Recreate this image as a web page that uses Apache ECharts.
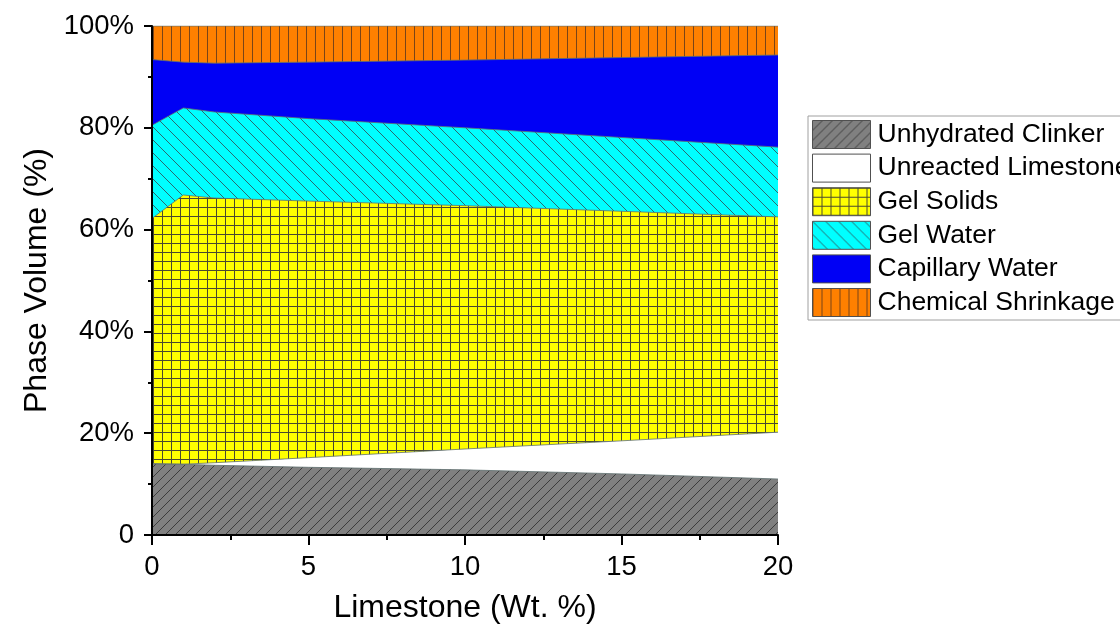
<!DOCTYPE html>
<html>
<head>
<meta charset="utf-8">
<script src="https://cdn.jsdelivr.net/npm/echarts@6/dist/echarts.min.js"></script>
<style>
html,body{margin:0;padding:0;background:#fff;}
#chart{width:1120px;height:630px;}
</style>
</head>
<body>
<div id="chart"></div>
<script>
// ---- data ----
const limestone = [0, 1, 2, 5, 10, 15, 20];
const unhydratedClinker   = [14.0, 13.9, 13.7, 13.3, 12.8, 12.0, 11.0];
const unreactedLimestone  = [0.0, 0.0, 0.5, 1.9, 4.1, 6.5, 9.2];
const gelSolids           = [48.2, 52.9, 52.0, 50.4, 47.8, 45.1, 42.3];
const gelWater            = [18.3, 17.1, 16.9, 16.2, 15.3, 14.5, 13.7];
const capillaryWater      = [12.9, 9.0, 9.6, 11.1, 13.3, 15.7, 18.1];
const chemicalShrinkage   = [6.6, 7.1, 7.3, 7.1, 6.7, 6.2, 5.7];
const seriesNames = ['Unhydrated Clinker', 'Unreacted Limestone', 'Gel Solids', 'Gel Water', 'Capillary Water', 'Chemical Shrinkage'];
const yTickLabels = ['0', '20%', '40%', '60%', '80%', '100%'];

// ---- patterns ----
function tile(w, h, bg, draw) {
  const c = document.createElement('canvas');
  c.width = w; c.height = h;
  const ctx = c.getContext('2d');
  ctx.fillStyle = bg; ctx.fillRect(0, 0, w, h);
  draw(ctx, w, h);
  return { image: c, repeat: 'repeat' };
}
function diag(color, dir) {
  return function (ctx, w, h) {
    ctx.strokeStyle = color; ctx.lineWidth = 1;
    ctx.beginPath();
    for (let k = -1; k <= 1; k++) {
      if (dir > 0) { ctx.moveTo(k * w, h); ctx.lineTo(k * w + w, 0); }
      else { ctx.moveTo(k * w, 0); ctx.lineTo(k * w + w, h); }
    }
    ctx.stroke();
  };
}
const patClinker = tile(10, 10, '#808080', diag('#3c3c3c', 1));
const patLime = '#ffffff';
const patGelSolids = tile(9, 9, '#ffff00', function (ctx, w, h) {
  ctx.fillStyle = '#4a4a30';
  ctx.fillRect(0, 0, 1, h);
  ctx.fillRect(0, 0, w, 1);
});
const patGelWater = tile(13, 13, '#00ffff', diag('#2a6a70', -1));
const patCap = '#0000f5';
const patShrink = tile(9, 9, '#ff8000', function (ctx, w, h) {
  ctx.fillStyle = '#7a4418';
  ctx.fillRect(0, 0, 1, h);
});
const fills = [patClinker, patLime, patGelSolids, patGelWater, patCap, patShrink];
const values = [unhydratedClinker, unreactedLimestone, gelSolids, gelWater, capillaryWater, chemicalShrinkage];

// cumulative tops of each phase (stacked by hand; value x-axis)
const cumulative = [];
values.forEach(function (arr, i) {
  cumulative.push(arr.map(function (v, j) { return (i > 0 ? cumulative[i - 1][j] : 0) + v; }));
});

const font = 'Liberation Sans, Arial, sans-serif';
const chart = echarts.init(document.getElementById('chart'), null, { renderer: 'canvas' });

// draw topmost phase first so lower phases paint over it
const series = [];
for (let i = seriesNames.length - 1; i >= 0; i--) {
  series.push({
    name: seriesNames[i],
    type: 'line',
    showSymbol: false,
    symbol: 'none',
    data: limestone.map(function (x, j) { return [x, Math.min(100, cumulative[i][j])]; }),
    lineStyle: { color: '#607070', width: 1, opacity: 0.8 },
    itemStyle: { color: '#607070' },
    areaStyle: { color: fills[i], opacity: 1, origin: 'start' },
    z: 2
  });
}

chart.setOption({
  animation: false,
  backgroundColor: '#ffffff',
  grid: { left: 152, right: 342, top: 26, bottom: 95, containLabel: false },
  legend: {
    orient: 'vertical',
    left: 808,
    top: 116,
    padding: [4, 8, 3, 4],
    itemWidth: 58,
    itemHeight: 28,
    itemGap: 4.6,
    icon: 'rect',
    borderColor: '#a0a0a0',
    borderWidth: 1,
    textStyle: { fontFamily: font, fontSize: 26.5, color: '#000', padding: [0, 0, 0, 2] },
    data: seriesNames.map(function (n, i) {
      return { name: n, icon: 'rect', itemStyle: { color: fills[i], borderColor: '#505050', borderWidth: 1, opacity: 1 } };
    })
  },
  xAxis: {
    type: 'value',
    min: 0, max: 20, interval: 5,
    name: 'Limestone (Wt. %)',
    nameLocation: 'middle',
    nameGap: 57,
    nameTextStyle: { fontFamily: font, fontSize: 32, color: '#000' },
    axisLine: { show: true, onZero: false, lineStyle: { color: '#000', width: 2 } },
    axisTick: { show: true, length: 10, lineStyle: { color: '#000', width: 2 } },
    minorTick: { show: true, splitNumber: 2, length: 5, lineStyle: { color: '#000', width: 2 } },
    splitLine: { show: false },
    axisLabel: { fontFamily: font, fontSize: 27.5, color: '#000', margin: 18 },
    z: 5
  },
  yAxis: {
    type: 'value',
    min: 0, max: 100, interval: 20,
    name: 'Phase Volume (%)',
    nameLocation: 'middle',
    nameGap: 98,
    nameTextStyle: { fontFamily: font, fontSize: 32, color: '#000' },
    axisLine: { show: true, onZero: false, lineStyle: { color: '#000', width: 2 } },
    axisTick: { show: true, length: 8, lineStyle: { color: '#000', width: 2 } },
    minorTick: { show: true, splitNumber: 2, length: 4, lineStyle: { color: '#000', width: 2 } },
    splitLine: { show: false },
    axisLabel: {
      fontFamily: font, fontSize: 27.5, color: '#000', margin: 18,
      formatter: function (v) { return yTickLabels[Math.round(v / 20)]; }
    },
    z: 5
  },
  series: series
});
</script>
</body>
</html>
